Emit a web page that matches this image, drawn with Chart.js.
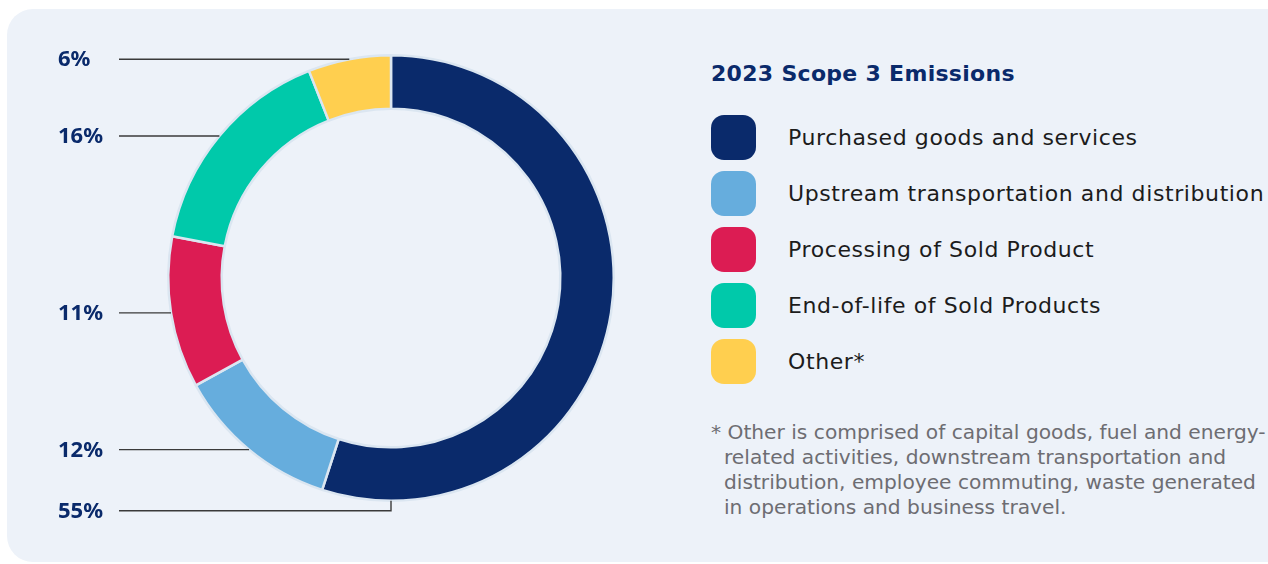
<!DOCTYPE html>
<html>
<head>
<meta charset="utf-8">
<script src="https://cdn.jsdelivr.net/npm/chart.js@4"></script>
<style>
  html, body { margin: 0; padding: 0; background: #ffffff; }
  body { width: 1268px; height: 564px; overflow: hidden; position: relative; font-family: "DejaVu Sans", sans-serif; }
  .panel {
    position: absolute; left: 7px; top: 9px; width: 1300px; height: 553px;
    background: #edf2f9; border-radius: 26px;
  }
  .chart-box { position: absolute; left: 0; top: 0; width: 700px; height: 564px; }
  .legend { position: absolute; left: 711px; top: 56px; }
  .legend h2 {
    margin: 0 0 17px 0; font-size: 22px; font-weight: 700; color: #0a2a6b;
    line-height: 36px; letter-spacing: 0.3px;
  }
  .legend ul { list-style: none; margin: 0; padding: 0; }
  .legend li { display: flex; align-items: center; height: 56px; }
  .swatch { width: 45px; height: 45px; border-radius: 13px; flex: none; }
  .legend li span.txt { margin-left: 32px; font-size: 22px; letter-spacing: 0.6px; color: #1c1c1c; white-space: nowrap; }
  .note {
    position: absolute; left: 711px; top: 420px; width: 548px;
    font-size: 20.2px; line-height: 25px; color: #6d6d72;
    padding-left: 13px; text-indent: -13px;
  }
</style>
</head>
<body>
<div class="panel"></div>
<div class="chart-box"><canvas id="chart"></canvas></div>
<div class="legend">
  <h2 id="legend-title"></h2>
  <ul id="legend-list"></ul>
</div>
<div class="note" id="note"></div>

<script>
const title = '2023 Scope 3 Emissions';
const categories = [
  'Purchased goods and services',
  'Upstream transportation and distribution',
  'Processing of Sold Product',
  'End-of-life of Sold Products',
  'Other*'
];
const shares = [55, 12, 11, 16, 6];
const colors = ['#0a2a6b', '#66addd', '#dc1c53', '#00c9aa', '#ffcf4f'];
const footnote = '* Other is comprised of capital goods, fuel and energy-related activities, downstream transportation and distribution, employee commuting, waste generated in operations and business travel.';

const LABEL_X = 58;
const LINE_START = 119;

// percentage labels on the left, joined to each slice by a thin leader line
const leaderLabels = {
  id: 'leaderLabels',
  afterDatasetsDraw(chart) {
    const { ctx } = chart;
    const meta = chart.getDatasetMeta(0);
    ctx.save();
    ctx.strokeStyle = '#3a3a3a';
    ctx.lineWidth = 1.4;
    ctx.fillStyle = '#0a2a6b';
    ctx.font = 'bold 22px "Noto Sans"';
    ctx.textBaseline = 'middle';
    ctx.textAlign = 'left';
    meta.data.forEach((arc, i) => {
      const { x, y, startAngle, endAngle, outerRadius } = arc.getProps(['x', 'y', 'startAngle', 'endAngle', 'outerRadius'], true);
      const mid = (startAngle + endAngle) / 2;
      const px = x + outerRadius * Math.cos(mid);
      const py = y + outerRadius * Math.sin(mid);
      let ly;
      ctx.beginPath();
      if (px < x) {
        ly = py;
        const ex = x - Math.sqrt(Math.max(outerRadius * outerRadius - (ly - y) * (ly - y), 0));
        ctx.moveTo(LINE_START, ly);
        ctx.lineTo(ex, ly);
      } else {
        // slice sits on the right: hook the line under the bottom of the ring
        const by = y + outerRadius;
        ly = by + 10;
        ctx.moveTo(x, by);
        ctx.lineTo(x, ly);
        ctx.lineTo(LINE_START, ly);
      }
      ctx.stroke();
      ctx.fillText(shares[i] + '%', LABEL_X, ly + 1);
    });
    ctx.restore();
  }
};

new Chart(document.getElementById('chart'), {
  type: 'doughnut',
  data: {
    labels: categories,
    datasets: [{
      data: shares,
      backgroundColor: colors,
      borderColor: '#dbe6f1',
      borderWidth: 2.5,
      hoverOffset: 0
    }]
  },
  options: {
    responsive: true,
    maintainAspectRatio: false,
    animation: false,
    cutout: '76%',
    layout: { padding: { left: 167, right: 85, top: 54, bottom: 62 } },
    plugins: {
      legend: { display: false },
      tooltip: { enabled: false }
    }
  },
  plugins: [leaderLabels]
});

document.getElementById('legend-title').textContent = title;
const list = document.getElementById('legend-list');
categories.forEach((name, i) => {
  const li = document.createElement('li');
  const sw = document.createElement('span');
  sw.className = 'swatch';
  sw.style.background = colors[i];
  const txt = document.createElement('span');
  txt.className = 'txt';
  txt.textContent = name;
  li.appendChild(sw);
  li.appendChild(txt);
  list.appendChild(li);
});
document.getElementById('note').textContent = footnote;
</script>
</body>
</html>
